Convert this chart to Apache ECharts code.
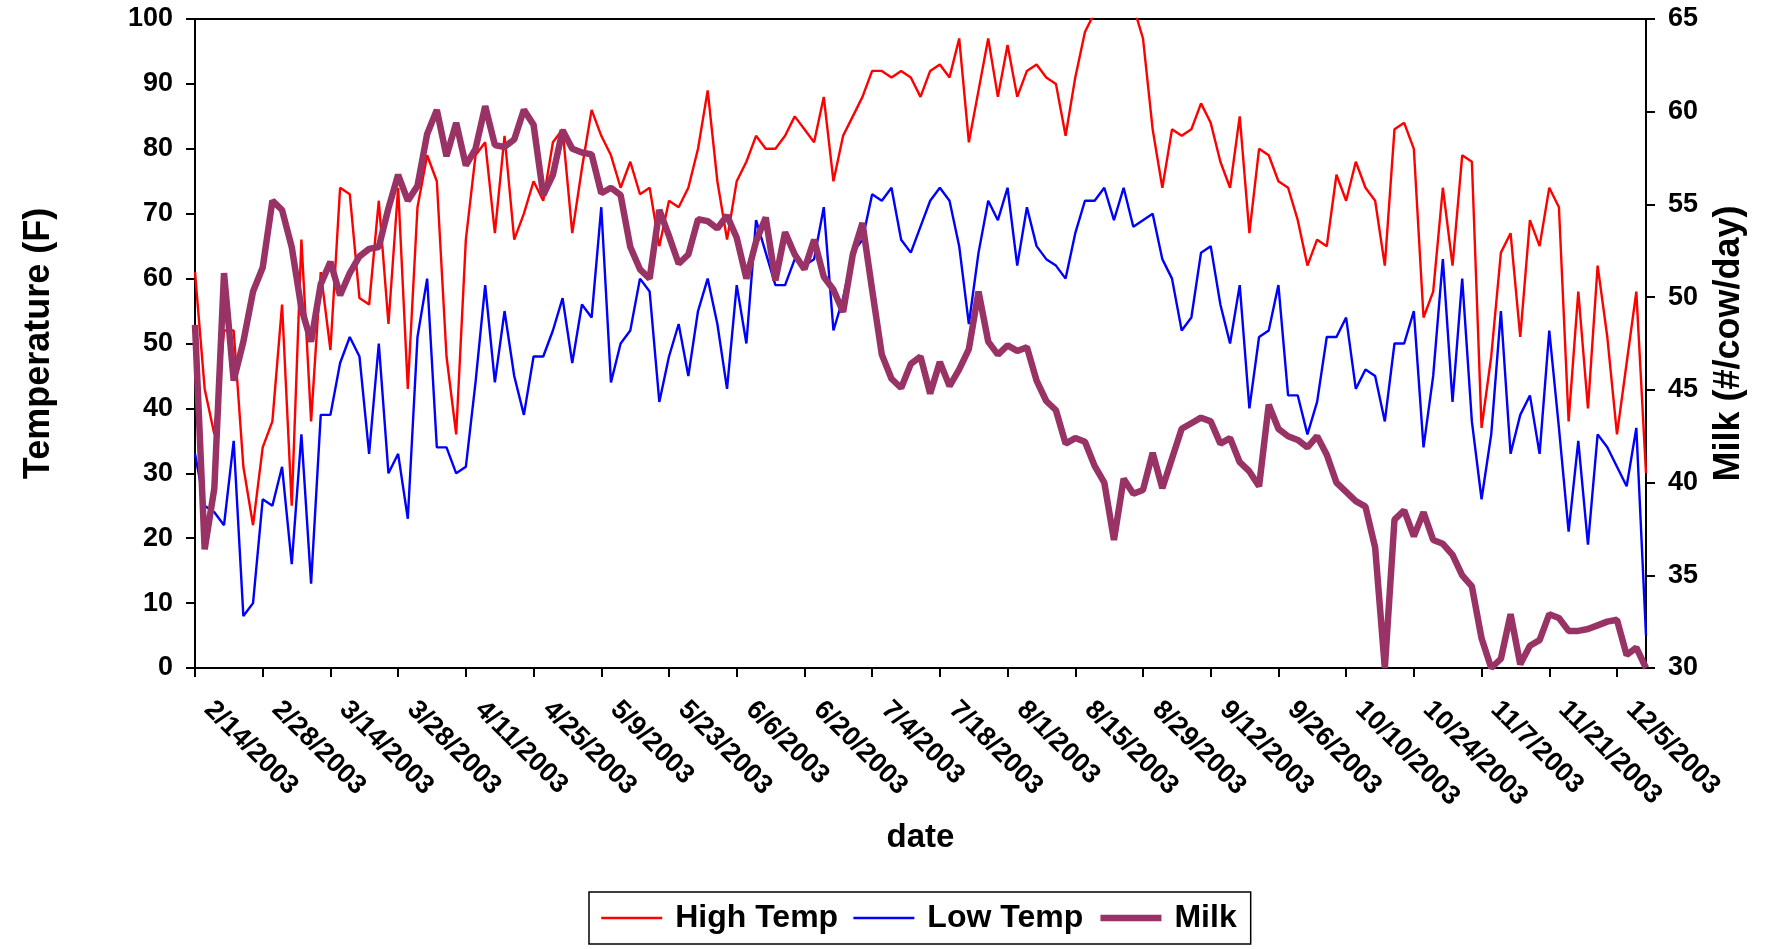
<!DOCTYPE html>
<html>
<head>
<meta charset="utf-8">
<script src="https://cdn.jsdelivr.net/npm/echarts@6/dist/echarts.min.js"></script>
<style>
html,body{margin:0;padding:0;background:#fff;}
#chart{width:1773px;height:949px;}
</style>
</head>
<body>
<div id="chart"></div>
<script>
var dates = [
'2/14/2003','2/16/2003','2/18/2003','2/20/2003','2/22/2003','2/24/2003','2/26/2003',
'2/28/2003','3/2/2003','3/4/2003','3/6/2003','3/8/2003','3/10/2003','3/12/2003',
'3/14/2003','3/16/2003','3/18/2003','3/20/2003','3/22/2003','3/24/2003','3/26/2003',
'3/28/2003','3/30/2003','4/1/2003','4/3/2003','4/5/2003','4/7/2003','4/9/2003',
'4/11/2003','4/13/2003','4/15/2003','4/17/2003','4/19/2003','4/21/2003','4/23/2003',
'4/25/2003','4/27/2003','4/29/2003','5/1/2003','5/3/2003','5/5/2003','5/7/2003',
'5/9/2003','5/11/2003','5/13/2003','5/15/2003','5/17/2003','5/19/2003','5/21/2003',
'5/23/2003','5/25/2003','5/27/2003','5/29/2003','5/31/2003','6/2/2003','6/4/2003',
'6/6/2003','6/8/2003','6/10/2003','6/12/2003','6/14/2003','6/16/2003','6/18/2003',
'6/20/2003','6/22/2003','6/24/2003','6/26/2003','6/28/2003','6/30/2003','7/2/2003',
'7/4/2003','7/6/2003','7/8/2003','7/10/2003','7/12/2003','7/14/2003','7/16/2003',
'7/18/2003','7/20/2003','7/22/2003','7/24/2003','7/26/2003','7/28/2003','7/30/2003',
'8/1/2003','8/3/2003','8/5/2003','8/7/2003','8/9/2003','8/11/2003','8/13/2003',
'8/15/2003','8/17/2003','8/19/2003','8/21/2003','8/23/2003','8/25/2003','8/27/2003',
'8/29/2003','8/31/2003','9/2/2003','9/4/2003','9/6/2003','9/8/2003','9/10/2003',
'9/12/2003','9/14/2003','9/16/2003','9/18/2003','9/20/2003','9/22/2003','9/24/2003',
'9/26/2003','9/28/2003','9/30/2003','10/2/2003','10/4/2003','10/6/2003','10/8/2003',
'10/10/2003','10/12/2003','10/14/2003','10/16/2003','10/18/2003','10/20/2003','10/22/2003',
'10/24/2003','10/26/2003','10/28/2003','10/30/2003','11/1/2003','11/3/2003','11/5/2003',
'11/7/2003','11/9/2003','11/11/2003','11/13/2003','11/15/2003','11/17/2003','11/19/2003',
'11/21/2003','11/23/2003','11/25/2003','11/27/2003','11/29/2003','12/1/2003','12/3/2003',
'12/5/2003','12/7/2003','12/9/2003','12/11/2003'
];

var highTemp = [
61,43,36,52,52,31,22,34,38,56,25,66,38,61,49,74,73,57,56,72,
53,74,43,71,79,75,48,36,66,79,81,67,82,66,70,75,72,81,83,67,
77,86,82,79,74,78,73,74,65,72,71,74,80,89,75,66,75,78,82,80,
80,82,85,83,81,88,75,82,85,88,92,92,91,92,91,88,92,93,91,97,
81,89,97,88,96,88,92,93,91,90,82,91,98,101,103,104,103,102,97,83,
74,83,82,83,87,84,78,74,85,67,80,79,75,74,69,62,66,65,76,72,
78,74,72,62,83,84,80,54,58,74,62,79,78,37,48,64,67,51,69,65,
74,71,38,58,40,62,51,36,47,58,30
];

var lowTemp = [
33,25,24,22,35,8,10,26,25,31,16,36,13,39,39,47,51,48,33,50,
30,33,23,51,60,34,34,30,31,44,59,44,55,45,39,48,48,52,57,47,
56,54,71,44,50,52,60,58,41,48,53,45,55,60,53,43,59,50,69,64,
59,59,63,62,63,71,52,57,64,66,73,72,74,66,64,68,72,74,72,65,
53,64,72,69,74,62,71,65,63,62,60,67,72,72,74,69,74,68,69,70,
63,60,52,54,64,65,56,50,59,40,51,52,59,42,42,36,41,51,51,54,
43,46,45,38,50,50,55,34,45,63,41,60,38,26,36,55,33,39,42,33,
52,37,21,35,19,36,34,31,28,37,5
];

var milk = [
48.5,36.4,39.7,51.3,45.5,47.6,50.3,51.6,55.2,54.7,52.7,49.4,47.6,50.7,51.9,50.1,51.3,52.2,52.6,52.7,
54.8,56.6,55.2,56.0,58.8,60.1,57.6,59.4,57.1,58.0,60.3,58.2,58.1,58.5,60.1,59.3,55.5,56.6,59.0,58.0,
57.8,57.7,55.6,55.9,55.5,52.7,51.5,51.0,54.7,53.3,51.8,52.3,54.2,54.1,53.7,54.4,53.2,51.0,53.0,54.3,
50.9,53.5,52.3,51.5,53.1,51.1,50.4,49.2,52.3,54.0,50.4,46.9,45.6,45.1,46.4,46.8,44.8,46.5,45.2,46.1,
47.2,50.3,47.6,46.9,47.4,47.1,47.3,45.5,44.4,43.9,42.1,42.4,42.2,40.9,40.0,36.9,40.2,39.4,39.6,41.6,
39.7,41.3,42.9,43.2,43.5,43.3,42.1,42.4,41.1,40.6,39.8,44.2,42.9,42.5,42.3,41.9,42.5,41.5,40.0,39.5,
39.0,38.7,36.5,30.0,38.0,38.5,37.1,38.4,36.9,36.7,36.1,35.0,34.4,31.6,30.0,30.5,32.9,30.2,31.2,31.5,
32.9,32.7,32.0,32.0,32.1,32.3,32.5,32.6,30.7,31.1,30.0
];

var seriesNames = ['High Temp', 'Low Temp', 'Milk'];

var FONT = 'Liberation Sans, Arial, sans-serif';
var chart = echarts.init(document.getElementById('chart'), null, {renderer: 'canvas'});

var option = {
  animation: false,
  backgroundColor: '#fff',
  textStyle: {fontFamily: FONT},
  grid: {
    left: 195, right: 127, top: 19, bottom: 281,
    show: true, borderColor: '#000', borderWidth: 2, backgroundColor: 'transparent'
  },
  legend: {
    data: [
      {name: seriesNames[0], lineStyle: {width: 2.4}},
      {name: seriesNames[1], lineStyle: {width: 2.4}},
      {name: seriesNames[2], lineStyle: {width: 6.5}}
    ],
    left: 589,
    top: 892,
    borderColor: '#000',
    borderWidth: 1.5,
    padding: [10, 14, 10, 11],
    itemWidth: 61,
    itemHeight: 14,
    itemGap: 14,
    itemStyle: {opacity: 0},
    textStyle: {fontFamily: FONT, fontSize: 32, fontWeight: 'bold', color: '#000', padding: [0, 0, 0, 8]}
  },
  xAxis: {
    type: 'category',
    data: dates,
    boundaryGap: false,
    name: 'date',
    nameLocation: 'middle',
    nameGap: 153,
    nameTextStyle: {fontFamily: FONT, fontSize: 33, fontWeight: 'bold', color: '#000'},
    axisLine: {show: true, lineStyle: {color: '#000', width: 2}},
    axisTick: {show: true, interval: 6, length: 9, lineStyle: {color: '#000', width: 2}},
    axisLabel: {
      interval: 6, rotate: -45, margin: 24, padding: [0, 0, 0, 19],
      fontFamily: FONT, fontSize: 27, fontWeight: 'bold', color: '#000'
    },
    splitLine: {show: false}
  },
  yAxis: [
    {
      type: 'value', min: 0, max: 100, interval: 10, position: 'left',
      name: 'Temperature (F)', nameLocation: 'middle', nameRotate: 90, nameGap: 138,
      nameTextStyle: {fontFamily: FONT, fontSize: 36, fontWeight: 'bold', color: '#000'},
      axisLine: {show: true, lineStyle: {color: '#000', width: 2}},
      axisTick: {show: true, length: 9, lineStyle: {color: '#000', width: 2}},
      axisLabel: {margin: 22, fontFamily: FONT, fontSize: 27, fontWeight: 'bold', color: '#000'},
      splitLine: {show: false}
    },
    {
      type: 'value', min: 30, max: 65, interval: 5, position: 'right',
      name: 'Milk (#/cow/day)', nameLocation: 'middle', nameRotate: 90, nameGap: 65,
      nameTextStyle: {fontFamily: FONT, fontSize: 36, fontWeight: 'bold', color: '#000'},
      axisLine: {show: true, lineStyle: {color: '#000', width: 2}},
      axisTick: {show: true, length: 9, lineStyle: {color: '#000', width: 2}},
      axisLabel: {margin: 22, fontFamily: FONT, fontSize: 27, fontWeight: 'bold', color: '#000'},
      splitLine: {show: false}
    }
  ],
  series: [
    {
      name: seriesNames[0], type: 'line', yAxisIndex: 0, data: highTemp,
      symbol: 'none', clip: true,
      lineStyle: {color: '#FF0000', width: 2.4},
      itemStyle: {color: '#FF0000'}
    },
    {
      name: seriesNames[1], type: 'line', yAxisIndex: 0, data: lowTemp,
      symbol: 'none', clip: true,
      lineStyle: {color: '#0000FF', width: 2.4},
      itemStyle: {color: '#0000FF'}
    },
    {
      name: seriesNames[2], type: 'line', yAxisIndex: 1, data: milk,
      symbol: 'none', clip: true,
      lineStyle: {color: '#993366', width: 6.5},
      itemStyle: {color: '#993366'}
    }
  ]
};
chart.setOption(option);
</script>
</body>
</html>
